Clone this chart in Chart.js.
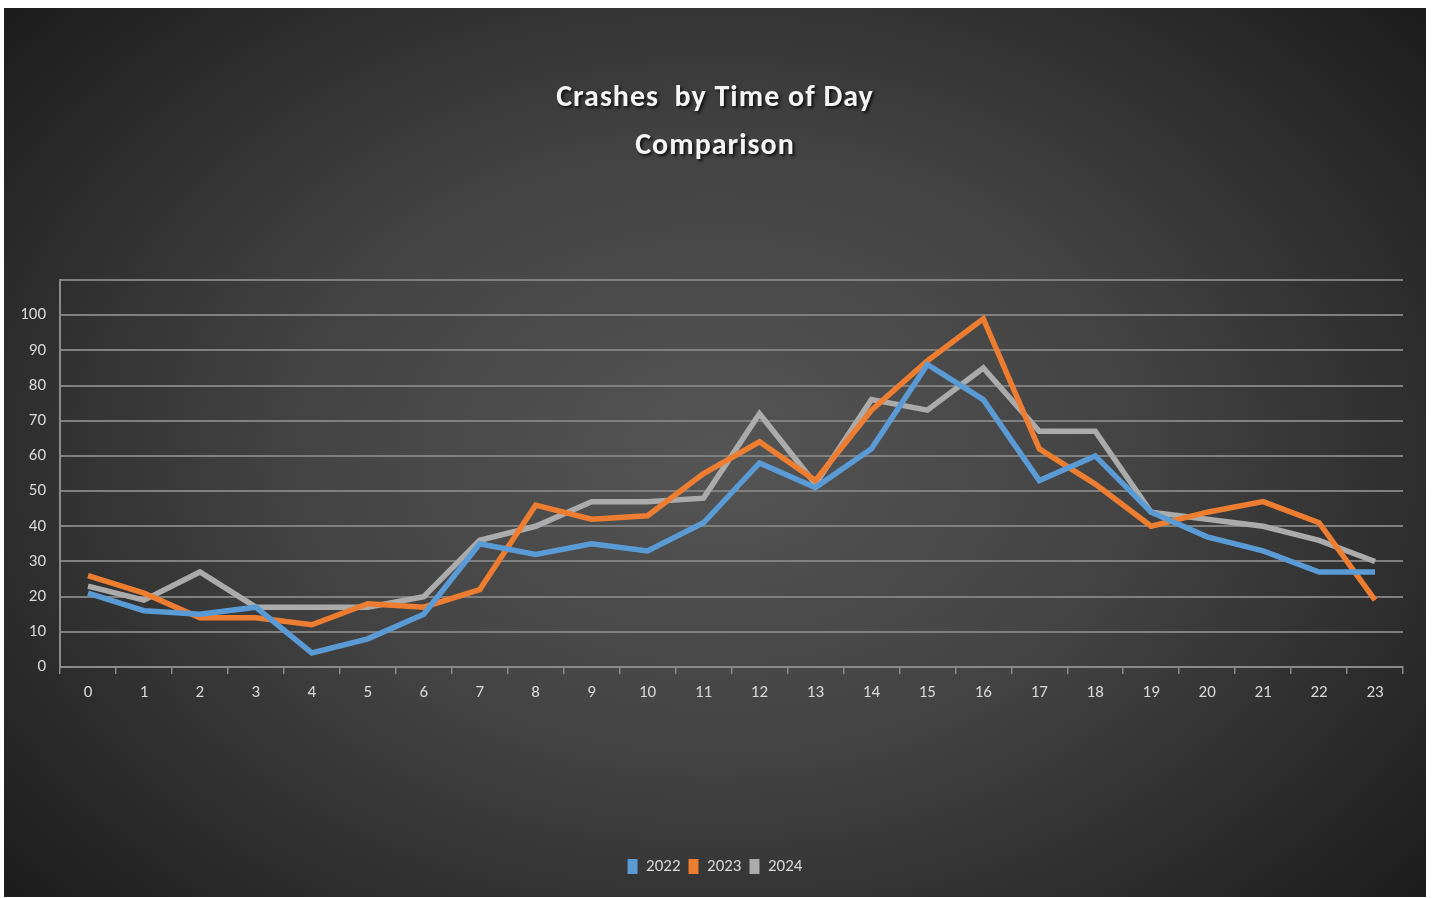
<!DOCTYPE html>
<html>
<head>
<meta charset="utf-8">
<script src="https://cdn.jsdelivr.net/npm/chart.js@4.4.1/dist/chart.umd.min.js"></script>
<style>
  html, body { margin: 0; padding: 0; background: #ffffff; }
  #wrap { position: absolute; left: 4px; top: 8px; width: 1422px; height: 889px; }
  canvas { display: block; }
</style>
</head>
<body>
<div id="wrap"><canvas id="c" width="1422" height="889"></canvas></div>
<script>
const hours = ['0','1','2','3','4','5','6','7','8','9','10','11','12','13','14','15','16','17','18','19','20','21','22','23'];
const y2022 = [21, 16, 15, 17, 4, 8, 15, 35, 32, 35, 33, 41, 58, 51, 62, 86, 76, 53, 60, 44, 37, 33, 27, 27];
const y2023 = [26, 21, 14, 14, 12, 18, 17, 22, 46, 42, 43, 55, 64, 53, 73, 87, 99, 62, 52, 40, 44, 47, 41, 19];
const y2024 = [23, 19, 27, 17, 17, 17, 20, 36, 40, 47, 47, 48, 72, 52, 76, 73, 85, 67, 67, 44, 42, 40, 36, 30];
const seriesNames = ['2022', '2023', '2024'];
const seriesColors = ['#5b9bd5', '#ed7d31', '#ababab'];
const titleLines = ['Crashes  by Time of Day', 'Comparison'];

const FONT = 'Carlito, Lato, "Open Sans", sans-serif';

const bgPlugin = {
  id: 'bg',
  beforeDraw(chart) {
    const ctx = chart.ctx;
    const w = chart.width, h = chart.height;
    ctx.save();
    ctx.translate(w / 2, h / 2);
    ctx.scale(1, 0.72);
    const r = Math.sqrt((w / 2) * (w / 2) + (h / 2 / 0.72) * (h / 2 / 0.72));
    const g = ctx.createRadialGradient(0, 0, 0, 0, 0, r);
    g.addColorStop(0, '#555555');
    g.addColorStop(0.45, '#434343');
    g.addColorStop(1, '#1c1c1c');
    ctx.fillStyle = g;
    ctx.fillRect(-w, -h / 0.72, 2 * w, 2 * h / 0.72);
    ctx.restore();
  }
};

const datasets = [y2022, y2023, y2024].map((d, i) => ({
  label: seriesNames[i],
  data: d,
  borderColor: seriesColors[i],
  backgroundColor: seriesColors[i],
  borderWidth: 5.5,
  pointRadius: 0,
  tension: 0,
  borderJoinStyle: 'miter',
  borderCapStyle: 'butt'
}));

const chart = new Chart(document.getElementById('c'), {
  type: 'line',
  data: { labels: hours, datasets },
  plugins: [bgPlugin],
  options: {
    responsive: false,
    animation: false,
    layout: { padding: { left: 0, right: 0, top: 0, bottom: 12 } },
    plugins: {
      title: {
        display: true,
        text: titleLines,
        color: '#f4f4f4',
        font: { family: FONT, size: 30, weight: 'bold', lineHeight: 1.6 },
        padding: { top: 66, bottom: 110 }
      },
      legend: {
        display: true,
        position: 'bottom',
        labels: {
          color: '#d9d9d9',
          font: { family: FONT, size: 17 },
          boxWidth: 10,
          boxHeight: 15,
          padding: 8,
          generateLabels(chart) {
            return chart.data.datasets.map((ds, i) => ({
              text: ds.label,
              fillStyle: ds.borderColor,
              strokeStyle: ds.borderColor,
              lineWidth: 0,
              fontColor: '#d9d9d9',
              datasetIndex: i,
              hidden: false
            }));
          }
        }
      },
      tooltip: { enabled: false }
    },
    scales: {
      x: {
        offset: true,
        grid: { display: true, drawOnChartArea: false, drawTicks: true, tickLength: 7, color: '#8a8a8a', lineWidth: 1.5, offset: true },
        border: { display: true, color: '#8a8a8a', width: 2 },
        ticks: { color: '#d9d9d9', font: { family: FONT, size: 17 }, padding: 9, maxRotation: 0, autoSkip: false },
        afterFit(scale) { scale.height = 183; }
      },
      y: {
        min: 0,
        max: 110,
        grid: { color: '#808080', lineWidth: 2, drawTicks: false },
        border: { display: true, color: '#8a8a8a', width: 2 },
        ticks: {
          stepSize: 10,
          color: '#d9d9d9',
          font: { family: FONT, size: 17 },
          padding: 14,
          callback: (v) => (v === 110 ? '' : v)
        },
        afterFit(scale) { scale.width = 56; }
      },
      yRight: {
        position: 'right',
        min: 0,
        max: 110,
        display: true,
        grid: { display: false, drawOnChartArea: false },
        border: { display: false },
        ticks: { display: false },
        afterFit(scale) { scale.width = 23; }
      }
    }
  }
});

// soft shadow and slight tracking on the title text, as in the reference
const tb = chart.titleBlock;
if (tb) {
  const origDraw = tb.draw.bind(tb);
  tb.draw = function () {
    const ctx = chart.ctx;
    ctx.save();
    ctx.shadowColor = 'rgba(0,0,0,0.75)';
    ctx.shadowOffsetX = 2;
    ctx.shadowOffsetY = 2;
    ctx.shadowBlur = 3;
    if ('letterSpacing' in ctx) ctx.letterSpacing = '1px';
    origDraw();
    ctx.restore();
  };
  chart.draw();
}
</script>
</body>
</html>
